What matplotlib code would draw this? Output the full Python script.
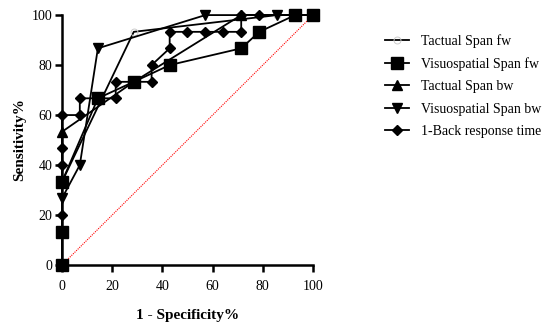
import matplotlib
matplotlib.use('Agg')
import matplotlib.pyplot as plt

plt.rcParams['font.family'] = ['Liberation Serif', 'DejaVu Serif']

# ROC curves, 1 - specificity (%) vs sensitivity (%)
tact_fw_x = [0, 0, 28.6, 85.7, 100]
tact_fw_y = [0, 33.3, 93.3, 100, 100]

visuo_fw_x = [0, 0, 0, 14.3, 28.6, 42.9, 71.4, 78.6, 92.9, 100]
visuo_fw_y = [0, 13.3, 33.3, 66.7, 73.3, 80, 86.7, 93.3, 100, 100]

tact_bw_x = [0, 0, 28.6, 71.4, 100]
tact_bw_y = [0, 53.3, 73.3, 100, 100]

visuo_bw_x = [0, 0, 7.1, 14.3, 57.1, 85.7, 100]
visuo_bw_y = [0, 26.7, 40, 86.7, 100, 100, 100]

back_x = [0, 0, 0, 0, 0, 7.1, 7.1, 21.4, 21.4, 35.7, 35.7, 42.9, 42.9,
          50, 57.1, 64.3, 71.4, 71.4, 78.6, 100]
back_y = [0, 20, 40, 46.7, 60, 60, 66.7, 66.7, 73.3, 73.3, 80, 86.7, 93.3,
          93.3, 93.3, 93.3, 93.3, 100, 100, 100]

labels = ['Tactual Span fw', 'Visuospatial Span fw', 'Tactual Span bw',
          'Visuospatial Span bw', '1-Back response time']

fig = plt.figure(figsize=(5.5, 3.28), dpi=100)
ax = fig.add_axes([0.1127, 0.192, 0.4564, 0.762])

ax.plot([0, 100], [0, 100], color='red', lw=0.8, ls=(0, (1, 1)), zorder=1)

ax.plot(tact_fw_x, tact_fw_y, color='black', lw=1.3, marker='o', ms=5,
        mfc='none', mec='#cccccc', mew=0.7, label=labels[0], clip_on=False)
ax.plot(visuo_fw_x, visuo_fw_y, color='black', lw=1.3, marker='s', ms=8,
        label=labels[1], clip_on=False)
ax.plot(tact_bw_x, tact_bw_y, color='black', lw=1.3, marker='^', ms=7.5,
        label=labels[2], clip_on=False)
ax.plot(visuo_bw_x, visuo_bw_y, color='black', lw=1.3, marker='v', ms=7.5,
        label=labels[3], clip_on=False)
ax.plot(back_x, back_y, color='black', lw=1.3, marker='D', ms=5.5,
        label=labels[4], clip_on=False)

ax.set_xlim(0, 100)
ax.set_ylim(0, 100)
ax.set_xticks(range(0, 101, 20))
ax.set_yticks(range(0, 101, 20))
for s in ['top', 'right']:
    ax.spines[s].set_visible(False)
for s in ['left', 'bottom']:
    ax.spines[s].set_linewidth(1.8)
ax.tick_params(axis='x', width=1.8, length=5, labelsize=10, pad=6)
ax.tick_params(axis='y', width=1.8, length=5, labelsize=10, pad=2)
ax.set_xlabel('1 - Specificity%', fontsize=11, fontweight='bold', labelpad=11)
ax.set_ylabel('Sensitivity%', fontsize=11, fontweight='bold', labelpad=4)

ax.legend(loc='upper left', bbox_to_anchor=(1.287, 0.925), frameon=False,
          fontsize=10, handlelength=1.7, handletextpad=0.9, labelspacing=0.68,
          borderaxespad=0, borderpad=0)

fig.savefig('out.png', dpi=100)
